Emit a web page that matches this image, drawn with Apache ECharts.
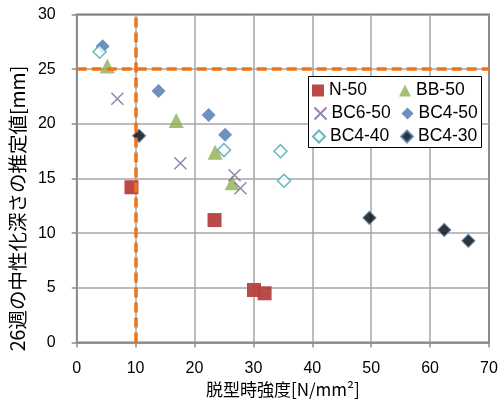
<!DOCTYPE html>
<html>
<head>
<meta charset="utf-8">
<script src="https://cdn.jsdelivr.net/npm/echarts@6/dist/echarts.min.js"></script>
<style>
html,body{margin:0;padding:0;background:#fff;}
#chart{width:503px;height:401px;}
</style>
</head>
<body>
<div id="chart"></div>
<script>
// Series names
const seriesNames = ['N-50', 'BB-50', 'BC6-50', 'BC4-50', 'BC4-40', 'BC4-30'];

// [脱型時強度, 26週の中性化深さの推定値]
const n50   = [[9.3, 14.2], [23.4, 11.2], [30.1, 4.8], [31.9, 4.5]];
const bb50  = [[5.2, 25.3], [16.9, 20.3], [23.5, 17.4], [26.4, 14.6]];
const bc650 = [[6.9, 22.3], [17.6, 16.4], [26.8, 15.3], [27.8, 14.1]];
const bc450 = [[4.4, 27.1], [13.9, 23.0], [22.4, 20.8], [25.2, 19.0]];
const bc440 = [[3.9, 26.6], [25.0, 17.6], [34.6, 17.5], [35.2, 14.8]];
const bc430 = [[10.6, 18.9], [49.7, 11.4], [62.4, 10.3], [66.5, 9.3]];

// Threshold lines
const refX = 10;
const refY = 25;

// Axis settings
const xTicks = [0, 10, 20, 30, 40, 50, 60, 70];
const yTicks = [0, 5, 10, 15, 20, 25, 30];

const FONT = '"Liberation Sans", Arial, "Noto Sans CJK JP", sans-serif';
const CJK = '"Noto Sans CJK JP", "Liberation Sans", sans-serif';
const crossPath = 'path://M0,0L10,10M10,0L0,10';

const chart = echarts.init(document.getElementById('chart'), null, {renderer: 'canvas'});

const refLine = {
  silent: true,
  symbol: 'none',
  label: {show: false},
  lineStyle: {color: '#EE7418', width: 3.5, type: [10, 5], opacity: 1},
  data: [{xAxis: refX}, {yAxis: refY}]
};

// Legend laid out as three rows of two entries, inside one framed box
const legendText = {fontFamily: FONT, fontSize: 17.5, lineHeight: 18, color: '#000', width: 66};
function legendRow(names, top) {
  return {
    data: names,
    left: 312, top: top,
    orient: 'horizontal',
    padding: 0,
    itemWidth: 12, itemHeight: 12,
    itemGap: 4,
    z: 20,
    textStyle: legendText
  };
}

chart.setOption({
  animation: false,
  textStyle: {fontFamily: FONT},
  grid: {
    left: 76.7, right: 14, top: 14.5, bottom: 58.5,
    outerBoundsMode: 'none',
    containLabel: false,
    show: true, borderColor: '#000', borderWidth: 1.5, backgroundColor: '#fff'
  },
  legend: [
    legendRow([seriesNames[0], seriesNames[1]], 81.5),
    legendRow([seriesNames[2], seriesNames[3]], 104.5),
    legendRow([seriesNames[4], seriesNames[5]], 127.5)
  ],
  graphic: [{
    type: 'rect', left: 308, top: 76, z: 10, silent: true,
    shape: {width: 173, height: 71},
    style: {fill: '#fff', stroke: '#000', lineWidth: 1}
  }],
  xAxis: {
    type: 'value', min: xTicks[0], max: xTicks[xTicks.length - 1], interval: 10,
    name: '脱型時強度[N/mm²]', nameLocation: 'middle', nameGap: 34,
    nameTextStyle: {fontFamily: CJK, fontSize: 17, color: '#000'},
    axisLine: {show: true, lineStyle: {color: '#8c8c8c', width: 1.5}},
    axisTick: {show: true, inside: false, length: 5, lineStyle: {color: '#8c8c8c', width: 1.5}},
    axisLabel: {fontSize: 16, color: '#000', margin: 18},
    splitLine: {show: true, lineStyle: {color: '#a6a6a6', width: 1.5}}
  },
  yAxis: {
    type: 'value', min: yTicks[0], max: yTicks[yTicks.length - 1], interval: 5,
    name: '26週の中性化深さの推定値[mm]', nameLocation: 'middle', nameGap: 41, nameRotate: 90,
    nameTextStyle: {fontFamily: CJK, fontSize: 19.5, color: '#000', padding: [0, 60, 0, 0]},
    axisLine: {show: true, lineStyle: {color: '#8c8c8c', width: 1.5}},
    axisTick: {show: true, inside: false, length: 5, lineStyle: {color: '#8c8c8c', width: 1.5}},
    axisLabel: {fontSize: 16, color: '#000', margin: 21},
    splitLine: {show: true, lineStyle: {color: '#a6a6a6', width: 1.5}}
  },
  series: [
    {
      name: seriesNames[0], type: 'scatter', data: n50, symbol: 'rect', symbolSize: 14,
      itemStyle: {color: '#B5403D', opacity: 0.95}, z: 3,
      markLine: refLine
    },
    {
      name: seriesNames[1], type: 'scatter', data: bb50, symbol: 'triangle', symbolSize: 15,
      itemStyle: {color: '#8FAF50'}, z: 3
    },
    {
      name: seriesNames[2], type: 'scatter', data: bc650, symbol: crossPath, symbolSize: 12,
      itemStyle: {color: 'none', borderColor: '#7D63A0', borderWidth: 1.5}, z: 3
    },
    {
      name: seriesNames[3], type: 'scatter', data: bc450, symbol: 'diamond', symbolSize: 14,
      itemStyle: {color: '#4A77B0'}, z: 3
    },
    {
      name: seriesNames[4], type: 'scatter', data: bc440, symbol: 'diamond', symbolSize: 13,
      itemStyle: {color: '#fff', borderColor: '#3FA2B8', borderWidth: 1.5}, z: 3
    },
    {
      name: seriesNames[5], type: 'scatter', data: bc430, symbol: 'diamond', symbolSize: 13,
      itemStyle: {color: '#000', borderColor: '#4F81BD', borderWidth: 1.2}, z: 3
    }
  ]
});
</script>
</body>
</html>
